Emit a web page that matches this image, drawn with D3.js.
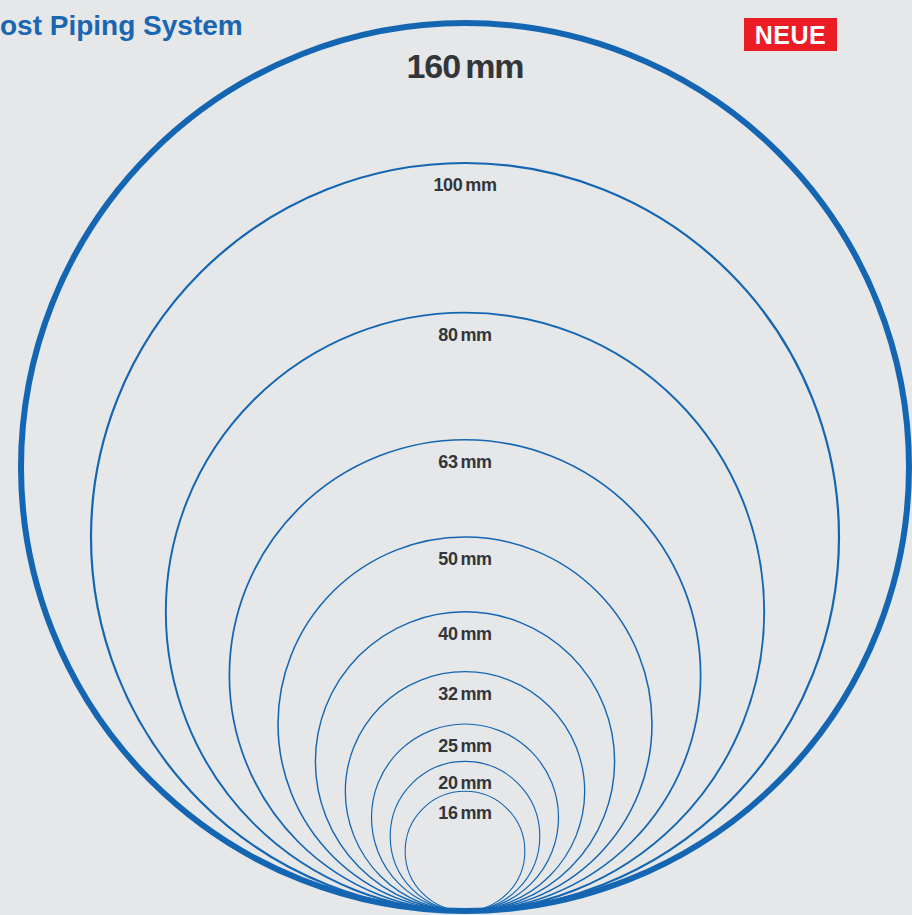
<!DOCTYPE html>
<html>
<head>
<meta charset="utf-8">
<script src="https://cdn.jsdelivr.net/npm/d3@7/dist/d3.min.js"></script>
<style>
  html, body { margin: 0; padding: 0; background: #e6e7e9; overflow: hidden; }
  svg { display: block; font-family: "Liberation Sans", Arial, Helvetica, sans-serif; }
</style>
</head>
<body>
<div id="chart"></div>
<script>
// pipe diameters in mm, largest first so smaller circles draw on top
const diameters = [160, 100, 80, 63, 50, 40, 32, 25, 20, 16];
const title = "ost Piping System";
const badge = "NEUE";

const W = 912, H = 915;
const cx = 465, baseY = 911; // all circles touch at this point

const svg = d3.select("#chart").append("svg")
  .attr("width", W).attr("height", H);

svg.append("rect").attr("width", W).attr("height", H).attr("fill", "#e6e7e9");

// radius scale: 0-100 mm is true to scale, 160 mm is compressed to fit
const r = d3.scaleLinear().domain([0, 100, 160]).range([0, 374, 444]);
const sw = d3.scaleLinear().domain([16, 100, 160]).range([1.1, 2.2, 6]);

const g = svg.append("g");

g.selectAll("circle.pipe")
  .data(diameters)
  .join("circle")
  .attr("class", "pipe")
  .attr("cx", cx)
  .attr("cy", d => baseY - r(d))
  .attr("r", d => r(d))
  .attr("fill", "none")
  .attr("stroke", "#1466b2")
  .attr("stroke-width", sw);

// labels just inside the top of each circle
const lbl = g.selectAll("text.lbl")
  .data(diameters)
  .join("text")
  .attr("class", "lbl")
  .attr("x", cx)
  .attr("y", d => baseY - 2 * r(d) + (d === 160 ? 55 : 28))
  .attr("text-anchor", "middle")
  .attr("font-weight", "bold")
  .attr("font-size", d => d === 160 ? "34px" : "18px")
  .attr("letter-spacing", d => d === 160 ? "-1px" : "-0.4px")
  .attr("fill", "#333639");

lbl.append("tspan").text(d => d);
lbl.append("tspan").attr("dx", d => d === 160 ? 5 : 3).text("mm");

// title at the top left
svg.append("text")
  .attr("x", 0).attr("y", 35)
  .attr("font-size", "28px").attr("font-weight", "bold")
  .attr("fill", "#1a66b0")
  .text(title);

// badge
const bx = 744, by = 18, bw = 93, bh = 33;
svg.append("rect")
  .attr("x", bx).attr("y", by).attr("width", bw).attr("height", bh)
  .attr("fill", "#ec1c24");
svg.append("text")
  .attr("x", bx + bw / 2).attr("y", by + 26)
  .attr("text-anchor", "middle")
  .attr("font-size", "25px").attr("font-weight", "bold")
  .attr("letter-spacing", "0.5px")
  .attr("fill", "#fff")
  .text(badge);
</script>
</body>
</html>
